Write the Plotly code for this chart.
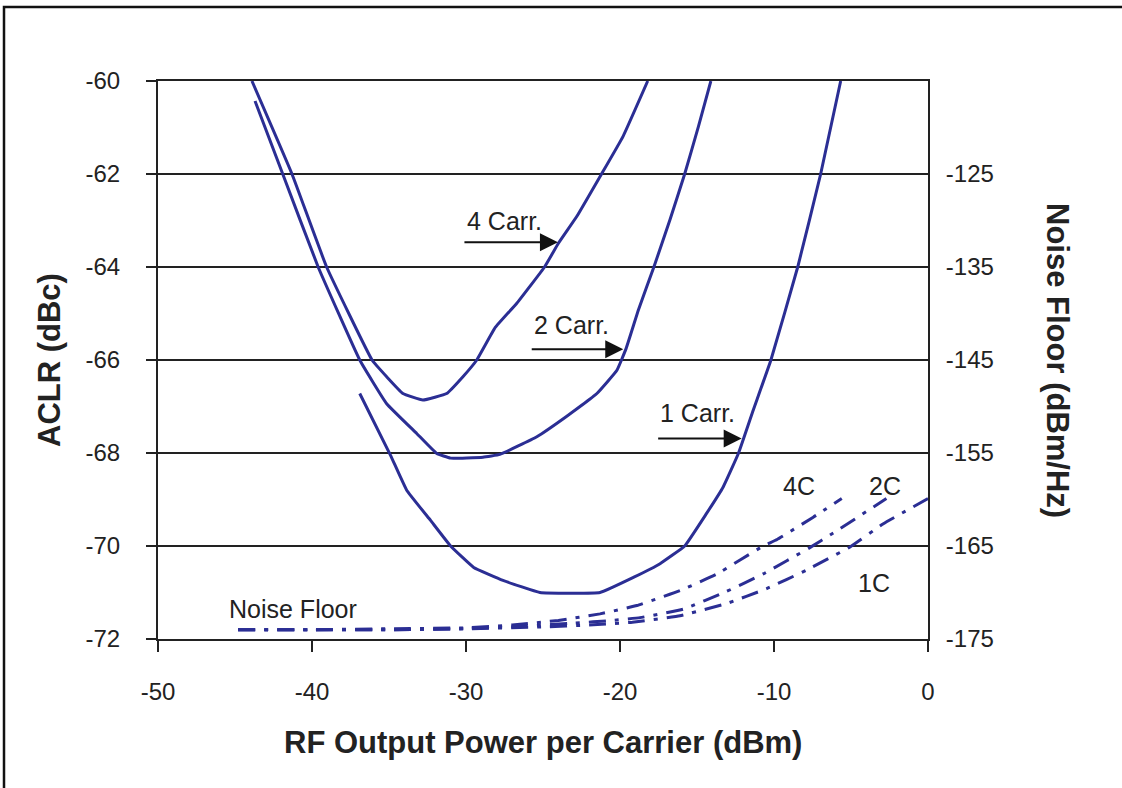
import plotly.graph_objects as go

# ---------------- data ----------------
x_4carr = [-43.9, -41.3, -39.05, -36.1, -35.15, -34.1, -32.8, -31.25, -30.2, -29.3,
           -28.1, -26.7, -24.9, -24.0, -22.8, -21.2, -19.8, -18.2]
y_4carr = [-60.0, -62.0, -64.0, -66.0, -66.36, -66.72, -66.86, -66.72, -66.36, -66.0,
           -65.3, -64.78, -64.0, -63.49, -62.91, -62.0, -61.19, -60.0]

x_2carr = [-43.7, -41.9, -39.6, -36.9, -35.15, -33.2, -31.9, -31.0, -28.9, -27.8,
           -25.4, -23.5, -21.5, -20.2, -19.6, -18.8, -17.8, -16.75, -15.8, -14.9, -14.1]
y_2carr = [-60.43, -62.0, -64.0, -66.0, -66.94, -67.58, -68.01, -68.11, -68.09, -68.03,
           -67.65, -67.22, -66.72, -66.22, -65.75, -64.92, -64.0, -62.98, -62.0, -60.97, -60.0]

x_1carr = [-36.9, -34.9, -33.85, -32.3, -31.0, -29.5, -27.6, -25.2, -21.3, -19.1,
           -17.4, -15.8, -14.4, -13.3, -12.3, -11.35, -10.2, -8.46, -6.97, -5.67]
y_1carr = [-66.72, -68.05, -68.8, -69.45, -70.0, -70.46, -70.74, -71.0, -71.0, -70.67,
           -70.38, -70.0, -69.31, -68.73, -68.0, -67.08, -66.0, -64.0, -62.0, -60.0]

# Noise floor (dBm/Hz, right axis)
x_nf1 = [-44.8, -40, -35, -30, -25, -22, -19.2, -16.1, -13.1, -10.5, -7.9, -5.06, -2.9, 0]
y_nf1 = [-174.0, -174.0, -174.0, -173.9, -173.7, -173.5, -173.2, -172.5, -171.2, -169.6,
         -167.6, -165.1, -162.6, -159.9]
x_nf2 = [-44.8, -40, -35, -30, -26, -23, -20.5, -18.7, -15.9, -13.1, -10.7, -7.7, -6.15, -2.7]
y_nf2 = [-174.0, -174.0, -174.0, -173.9, -173.6, -173.3, -173.0, -172.7, -171.8, -169.9,
         -168.0, -165.2, -163.6, -159.9]
x_nf4 = [-44.8, -40, -35, -30, -27, -24, -21.3, -18.9, -16.1, -13.7, -10.7, -9.8, -7.45, -5.6]
y_nf4 = [-174.0, -174.0, -173.9, -173.8, -173.5, -173.0, -172.3, -171.4, -169.8, -168.0,
         -165.0, -164.3, -161.9, -159.9]

x_ticks = [-50, -40, -30, -20, -10, 0]
x_ticktext = ["-50", "-40", "-30", "-20", "-10", "0"]
y_ticks = [-72, -70, -68, -66, -64, -62, -60]
y_ticktext = ["-72", "-70", "-68", "-66", "-64", "-62", "-60"]
y2_ticks = [-175, -165, -155, -145, -135, -125]
y2_ticktext = ["-175", "-165", "-155", "-145", "-135", "-125"]

# ---------------- style ----------------
BLUE = "#2B2E94"
INK = "#222222"
FONT = "Liberation Sans"
TICK_SIZE = 24
NOTE_SIZE = 25
TITLE_SIZE = 31

fig = go.Figure()

for xs, ys in [(x_4carr, y_4carr), (x_2carr, y_2carr), (x_1carr, y_1carr)]:
    fig.add_trace(go.Scatter(x=xs, y=ys, mode="lines",
                             line=dict(color=BLUE, width=3, shape="spline", smoothing=0.3),
                             showlegend=False, hoverinfo="skip"))

for xs, ys in [(x_nf1, y_nf1), (x_nf2, y_nf2), (x_nf4, y_nf4)]:
    fig.add_trace(go.Scatter(x=xs, y=ys, mode="lines", yaxis="y2",
                             line=dict(color=BLUE, width=3, dash="17px,9px,4px,9px",
                                       shape="spline", smoothing=0.3),
                             showlegend=False, hoverinfo="skip"))

annotations = []
# curve labels with arrows
for text, tx, ty, hx, hy, ax in [
    ("4 Carr.", -30.06, -63.02, -24.03, -63.47, -95),
    ("2 Carr.", -25.73, -65.25, -19.79, -65.77, -93),
    ("1 Carr.", -17.53, -67.14, -12.10, -67.69, -85),
]:
    annotations.append(dict(x=tx, y=ty, xref="x", yref="y", text=text, showarrow=False,
                            xanchor="left", yanchor="middle",
                            font=dict(family=FONT, size=NOTE_SIZE, color=INK)))
    annotations.append(dict(x=hx, y=hy, xref="x", yref="y", text="", showarrow=True,
                            ax=ax, ay=0, arrowhead=2, arrowsize=1.8, arrowwidth=2,
                            arrowcolor="#111111", standoff=0))

for text, tx, ty, xa in [
    ("Noise Floor", -45.54, -71.35, "left"),
    ("4C", -8.35, -68.72, "center"),
    ("2C", -2.79, -68.72, "center"),
    ("1C", -3.50, -70.80, "center"),
]:
    annotations.append(dict(x=tx, y=ty, xref="x", yref="y", text=text, showarrow=False,
                            xanchor=xa, yanchor="middle",
                            font=dict(family=FONT, size=NOTE_SIZE, color=INK)))

# axis titles
annotations.append(dict(x=0.5, y=0, xref="paper", yref="paper", yshift=-103,
                        text="<b>RF Output Power per Carrier (dBm)</b>", showarrow=False,
                        xanchor="center", yanchor="middle",
                        font=dict(family=FONT, size=TITLE_SIZE, color=INK)))
annotations.append(dict(x=0, y=0.5, xref="paper", yref="paper", xshift=-109,
                        text="<b>ACLR (dBc)</b>", showarrow=False, textangle=-90,
                        xanchor="center", yanchor="middle",
                        font=dict(family=FONT, size=TITLE_SIZE, color=INK)))
annotations.append(dict(x=1, y=0.5, xref="paper", yref="paper", xshift=130,
                        text="<b>Noise Floor (dBm/Hz)</b>", showarrow=False, textangle=90,
                        xanchor="center", yanchor="middle",
                        font=dict(family=FONT, size=TITLE_SIZE, color=INK)))

W, H = 1122, 788
L, R, T, B = 158, 194, 81, 149
pw, ph = W - L - R, H - T - B
def px_to_paper_x(p):
    return (p - L) / pw
def px_to_paper_y(p):
    return (H - B - p) / ph

shapes = [
    # outer frame (left and top edges)
    dict(type="path", xref="paper", yref="paper",
         path=f"M {px_to_paper_x(4)},{px_to_paper_y(790)} L {px_to_paper_x(4)},{px_to_paper_y(7)} "
              f"L {px_to_paper_x(1124)},{px_to_paper_y(7)}",
         line=dict(color="#111111", width=2.5)),
]

fig.update_layout(
    width=W, height=H,
    margin=dict(l=L, r=R, t=T, b=B, pad=0),
    paper_bgcolor="white", plot_bgcolor="white",
    font=dict(family=FONT, color=INK),
    showlegend=False,
    annotations=annotations,
    shapes=shapes,
    xaxis=dict(range=[-50, 0], tickvals=x_ticks, ticktext=x_ticktext, ticks="outside",
               ticklen=11, tickwidth=2, tickcolor=INK, showline=True, linecolor=INK,
               linewidth=2, mirror=True, showgrid=False, zeroline=False,
               ticklabelstandoff=19, tickfont=dict(family=FONT, size=TICK_SIZE, color=INK)),
    yaxis=dict(range=[-72, -60], tickvals=y_ticks, ticktext=y_ticktext, ticks="outside",
               ticklen=10, tickwidth=2, tickcolor=INK, showline=True, linecolor=INK,
               linewidth=2, showgrid=True, gridcolor=INK, gridwidth=2, zeroline=False,
               ticklabelstandoff=21, tickfont=dict(family=FONT, size=TICK_SIZE, color=INK)),
    yaxis2=dict(range=[-175, -115], tickvals=y2_ticks, ticktext=y2_ticktext,
                overlaying="y", side="right", ticks="", showline=True, linecolor=INK,
                linewidth=2, showgrid=False, zeroline=False, ticklabelstandoff=11,
                tickfont=dict(family=FONT, size=TICK_SIZE, color=INK)),
)

fig.write_html("out.html", config={"displayModeBar": False},
               post_script="document.body.style.margin='0';document.body.style.overflow='hidden';")
